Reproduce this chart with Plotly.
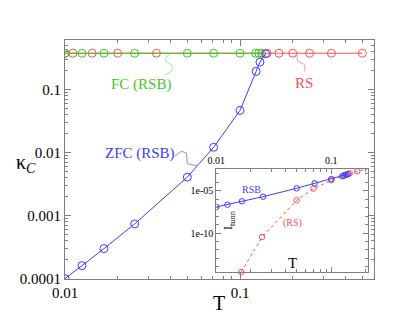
import plotly.graph_objects as go

# ---------------- data ----------------
T_fc = [0.01, 0.0125, 0.0167, 0.025, 0.05, 0.0707, 0.1, 0.123, 0.128, 0.133]
K_fc = [0.38, 0.38, 0.38, 0.38, 0.38, 0.38, 0.38, 0.38, 0.38, 0.38]

T_rs = [0.01, 0.0111, 0.0143, 0.02, 0.0333, 0.143, 0.167, 0.2, 0.25, 0.333, 0.5]
K_rs = [0.38, 0.38, 0.38, 0.38, 0.38, 0.38, 0.38, 0.38, 0.38, 0.38, 0.38]

T_zfc = [0.01, 0.0125, 0.0167, 0.025, 0.05, 0.0707, 0.1, 0.1236, 0.13, 0.14]
K_zfc = [1.0e-4, 1.61e-4, 3.0e-4, 7.4e-4, 4.1e-3, 0.0122, 0.047, 0.196, 0.275, 0.373]

Ti_rsb = [0.01, 0.0125, 0.0167, 0.0255, 0.05, 0.0717, 0.1, 0.1247, 0.13, 0.135, 0.14]
Ii_rsb = [10**-6.92, 10**-6.65, 10**-6.25, 10**-5.71, 10**-4.72, 10**-4.13,
          10**-3.62, 10**-3.30, 10**-3.18, 10**-3.11, 10**-3.03]

Ti_rs = [0.0165, 0.025, 0.05, 0.07, 0.1, 0.128, 0.135, 0.1446, 0.168, 0.205]
Ii_rs = [10**-14.6, 10**-10.47, 10**-6.13, 10**-4.76, 10**-3.77, 10**-3.23,
         10**-3.11, 10**-2.95, 10**-2.71, 10**-2.44]

x_ticks = [0.01, 0.1]
x_ticktext = ["0.01", "0.1"]
y_ticks = [1e-4, 1e-3, 1e-2, 1e-1]
y_ticktext = ["0.0001", "0.001", "0.01", "0.1"]
yi_ticks = [1e-10, 1e-5]
yi_ticktext = ["1e-10", "1e-05"]

# ---------------- styles ----------------
RED = "#ff5050"
GREEN = "#3ec81e"
BLUE = "#3c3cff"
AXC = "#7f7f7f"
FONT = "Liberation Serif"

W, H = 415, 321
L, R, TOP, B = 57, 49, 32, 50
PW, PH = W - L - R, H - TOP - B


def px(x):
    return (x - L) / PW


def py(y):
    return (H - B - y) / PH


fig = go.Figure()

mk = dict(symbol="circle-open", size=8, line=dict(width=1))
fig.add_trace(go.Scatter(x=T_rs, y=K_rs, mode="lines+markers",
                         line=dict(color=RED, width=1),
                         marker=dict(color=RED, **mk), showlegend=False))
fig.add_trace(go.Scatter(x=T_fc, y=K_fc, mode="lines+markers",
                         line=dict(color=GREEN, width=1),
                         marker=dict(color=GREEN, **mk), showlegend=False))
fig.add_trace(go.Scatter(x=T_zfc, y=K_zfc, mode="lines+markers",
                         line=dict(color=BLUE, width=1),
                         marker=dict(color=BLUE, **mk), showlegend=False))

mki = dict(symbol="circle-open", size=5.5, line=dict(width=1))
fig.add_trace(go.Scatter(x=Ti_rs, y=Ii_rs, mode="lines+markers", xaxis="x2", yaxis="y2",
                         line=dict(color=RED, width=1, dash="dot"),
                         marker=dict(color=RED, **mki), showlegend=False, cliponaxis=False))
fig.add_trace(go.Scatter(x=Ti_rsb, y=Ii_rsb, mode="lines+markers", xaxis="x2", yaxis="y2",
                         line=dict(color=BLUE, width=1),
                         marker=dict(color=BLUE, **mki), showlegend=False))

minor_main = [m * 10.0**e for e in (-2, -1) for m in range(2, 10)]
minor_yi = [10.0**e for e in range(-15, -1)]

axis_common = dict(type="log", showline=True, linecolor=AXC, linewidth=1, automargin=False,
                   mirror="ticks", ticks="inside", tickcolor=AXC, showgrid=False,
                   zeroline=False)

ix0, ix1, iy0, iy1 = 208.3, 360, 161, 264

fig.update_layout(
    template="none",
    width=W, height=H,
    margin=dict(l=L, r=R, t=TOP, b=B, pad=0, autoexpand=False),
    paper_bgcolor="white", plot_bgcolor="white",
    xaxis=dict(range=[-2, -2 + PW / 175.0], tickvals=x_ticks, ticktext=x_ticktext,
               tickfont=dict(family=FONT, size=15, color="black"),
               ticklen=6, minor=dict(tickvals=minor_main, ticks="inside", ticklen=3, tickcolor=AXC),
               **axis_common),
    yaxis=dict(range=[-4.005, -0.21], tickvals=y_ticks, ticktext=y_ticktext,
               tickfont=dict(family=FONT, size=15, color="black"),
               ticklen=6, minor=dict(tickvals=[m * 10.0**e for e in (-4, -3, -2, -1) for m in range(2, 10)],
                                     ticks="inside", ticklen=3, tickcolor=AXC),
               **axis_common),
    xaxis2=dict(domain=[px(ix0), px(ix1)], anchor="y2", side="top",
                range=[-2, -2 + (ix1 - ix0) / 115.0], tickvals=x_ticks, ticktext=x_ticktext,
                tickfont=dict(family=FONT, size=10, color="black"),
                ticklen=5, minor=dict(tickvals=minor_main, ticks="inside", ticklen=3, tickcolor=AXC),
                **axis_common),
    yaxis2=dict(domain=[py(iy1), py(iy0)], anchor="x2",
                range=[-14.6, -2.44], tickvals=yi_ticks, ticktext=yi_ticktext,
                tickfont=dict(family=FONT, size=10, color="black"),
                ticklen=5, minor=dict(tickvals=minor_yi, ticks="inside", ticklen=3, tickcolor=AXC),
                **axis_common),
)

shapes = [
    dict(type="rect", xref="paper", yref="paper", x0=px(ix0), x1=px(ix1), y0=py(iy1), y1=py(iy0),
         fillcolor="white", line=dict(width=0), layer="below"),
]


def path(points, color):
    d = "M {:.4f} {:.4f}".format(px(points[0][0]), py(points[0][1]))
    for (x, y) in points[1:]:
        d += " L {:.4f} {:.4f}".format(px(x), py(y))
    return dict(type="path", xref="paper", yref="paper", path=d,
                line=dict(color=color, width=1))


shapes.append(path([(162, 45.7), (158, 50), (157, 52.5), (163, 56.5), (165, 60.5), (162, 64.5), (156.7, 67)], "#9cf08c"))
shapes.append(path([(289.3, 46.7), (289.3, 52.7), (296.7, 56.7), (296.7, 63.3)], "#ff9a9a"))
shapes.append(path([(166.7, 148.3), (173.3, 143.3), (178.5, 145), (179.3, 155.7), (188.3, 157.7), (191, 156)], "#8a8aff"))
fig.update_layout(shapes=shapes)

ann = []


def text(x, y, s, size, color="black", **kw):
    ann.append(dict(x=px(x), y=py(y), xref="paper", yref="paper", text=s, showarrow=False,
                    xanchor="center", yanchor="middle",
                    font=dict(family=FONT, size=size, color=color), **kw))


text(133, 76, "FC (RSB)", 15, GREEN)
text(296, 75, "RS", 15, RED)
text(132, 145.5, "ZFC (RSB)", 15, BLUE)
text(211, 295, "T", 20)
text(18, 155, "κ<sub><i>C</i></sub>", 20)
text(243, 181, "RSB", 10, BLUE)
text(284, 215, "(RS)", 10, RED)
text(284, 255, "T", 15)
text(221, 212, "I<sub>tunn</sub>", 12, textangle=-90)
fig.update_layout(annotations=ann)

fig.write_html("out.html")
